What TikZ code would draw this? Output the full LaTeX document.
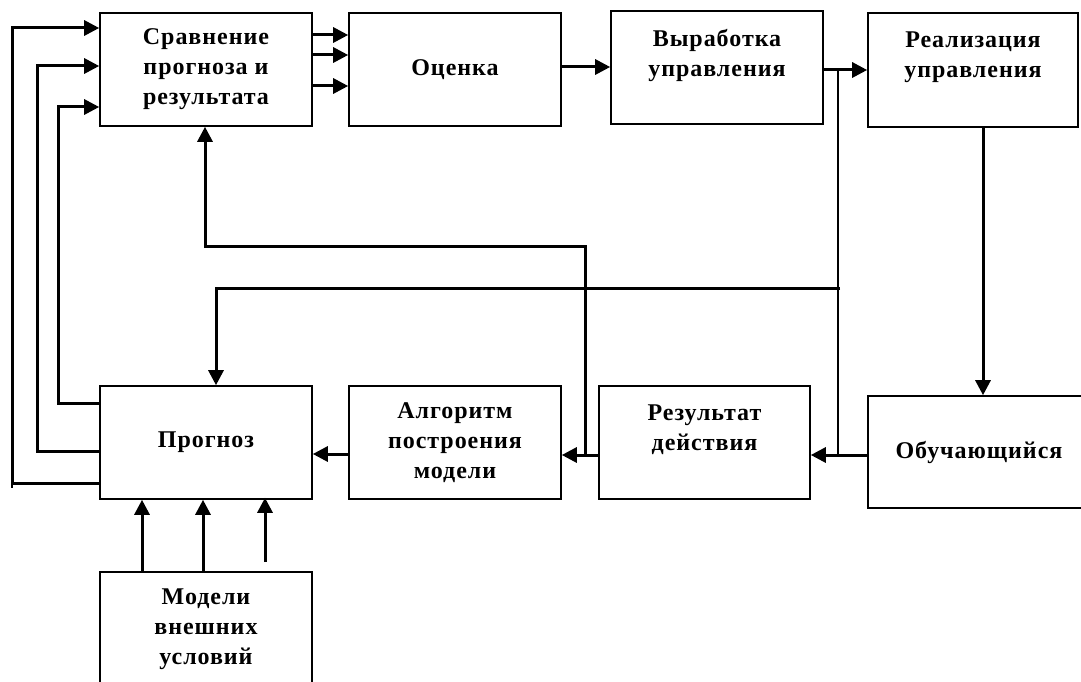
\documentclass[tikz,border=0pt]{standalone}
\usepackage{fontspec}
\setmainfont{Liberation Serif}
\newfontfamily\boxfont[LetterSpace=4]{Liberation Serif}
\usetikzlibrary{arrows.meta,calc}
\tikzset{
  blk/.style={draw, line width=1.6pt, rectangle, inner sep=0pt, align=center,
    font=\boxfont\bfseries\fontsize{24}{30}\selectfont},
  ln/.style={line width=2.4pt},
  arr/.style={line width=3pt, -{Triangle[length=15pt,width=15pt]}},
}
\begin{document}
\begin{tikzpicture}[x=1pt,y=-1pt]
\useasboundingbox (0,0) rectangle (1081,682);
\clip (0,0) rectangle (1081,682);
\fill[white] (0,0) rectangle (1081,682);
% boxes
\node[blk, minimum width=212pt, minimum height=113pt] (cmp) at (206,69.5) {Сравнение\\прогноза и\\результата};
\node[blk, minimum width=212pt, minimum height=113pt] (eval) at (455,69.5) {Оценка};
\node[blk, minimum width=212pt, minimum height=113pt] (vyr) at (717,67.5) {Выработка\\управления\\\mbox{}};
\node[blk, minimum width=210pt, minimum height=114pt] (real) at (973,70) {Реализация\\управления\\\mbox{}};
\node[blk, minimum width=212pt, minimum height=113pt] (prog) at (206,442.5) {Прогноз};
\node[blk, minimum width=212pt, minimum height=113pt] (alg) at (455,442.5) {Алгоритм\\построения\\модели};
\node[blk, minimum width=211pt, minimum height=113pt] (rez) at (704.5,442.5) {Результат\\действия\\\mbox{}};
\node[blk, minimum width=222pt, minimum height=112pt] (obuch) at (979,452) {Обучающийся};
\node[blk, minimum width=212pt, minimum height=114pt] (mod) at (206,629) {Модели\\внешних\\условий};
% feedback from Прогноз to Сравнение
\draw[arr] (prog.west |- 0,403) -| (58,107) -- (cmp.west |- 0,107);
\draw[arr] (prog.west |- 0,451) -| (37,66) -- (cmp.west |- 0,66);
\draw[arr] (prog.west |- 0,483) -| (12,28) -- (cmp.west |- 0,28);
\coordinate (c3) at (12,483);
\draw[ln] (c3) -- ++(0,5);
% Сравнение -> Оценка
\draw[arr] (cmp.east |- 0,35) -- (eval.west |- 0,35);
\draw[arr] (cmp.east |- 0,55) -- (eval.west |- 0,55);
\draw[arr] (cmp.east |- 0,86) -- (eval.west |- 0,86);
% Оценка -> Выработка
\draw[arr] (eval.east |- 0,67) -- (vyr.west |- 0,67);
% Выработка -> Реализация
\draw[arr] (vyr.east |- 0,70) -- (real.west |- 0,70);
% junction line down
\coordinate (j1) at (838,70);
\coordinate (j2) at (838,455);
\draw[ln] (j1) -- (j2);
% Обучающийся -> Результат
\draw[arr] (obuch.west |- 0,455) -- (rez.east |- 0,455);
% line at y 288 to Прогноз
\coordinate (h1) at (840,288);
\draw[arr] (h1) -| (prog.north -| 216,0);
% Результат -> Алгоритм
\draw[arr] (rez.west |- 0,455) -- (alg.east |- 0,455);
% from 585 up to Сравнение
\coordinate (v1) at (585,455);
\draw[arr] (v1) |- (205,246) -- (cmp.south -| 205,0);
% Алгоритм -> Прогноз
\draw[arr] (alg.west |- 0,454) -- (prog.east |- 0,454);
% Реализация -> Обучающийся
\draw[arr] (real.south -| 983,0) -- (obuch.north -| 983,0);
% Модели -> Прогноз
\draw[arr] (mod.north -| 142,0) -- (prog.south -| 142,0);
\draw[arr] (mod.north -| 203,0) -- (prog.south -| 203,0);
\draw[arr] ($(mod.north -| 265,0)+(0,-9)$) -- ($(prog.south -| 265,0)+(0,-2)$);
\end{tikzpicture}
\end{document}
